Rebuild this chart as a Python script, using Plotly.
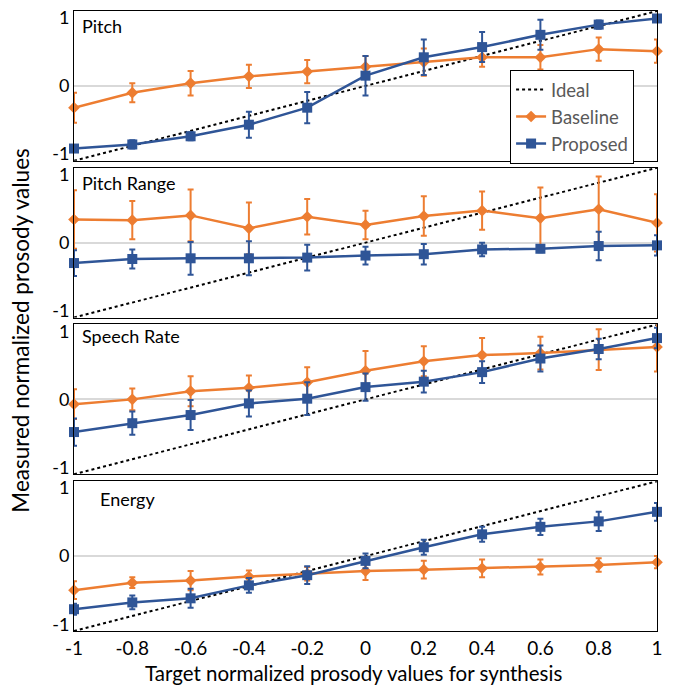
import plotly.graph_objects as go
from plotly.subplots import make_subplots

x_vals = [-1, -0.8, -0.6, -0.4, -0.2, 0, 0.2, 0.4, 0.6, 0.8, 1]
x_tick_labels = ["-1", "-0.8", "-0.6", "-0.4", "-0.2", "0", "0.2", "0.4", "0.6", "0.8", "1"]
y_tick_vals = [-1, 0, 1]
y_tick_labels = ["-1", "0", "1"]
panel_titles = ["Pitch", "Pitch Range", "Speech Rate", "Energy"]

ideal_x = [-1, 1]
ideal_y = [-1.1, 1.1]

# Pitch
pitch_base = [-0.32, -0.10, 0.04, 0.14, 0.21, 0.28, 0.35, 0.42, 0.42, 0.54, 0.51]
pitch_base_err = [0.22, 0.14, 0.18, 0.17, 0.17, 0.16, 0.20, 0.14, 0.18, 0.17, 0.17]
pitch_prop = [-0.92, -0.86, -0.74, -0.57, -0.32, 0.15, 0.42, 0.57, 0.75, 0.90, 0.99]
pitch_prop_err = [0.04, 0.06, 0.06, 0.19, 0.23, 0.29, 0.26, 0.22, 0.22, 0.06, 0.05]

# Pitch Range
range_base = [0.34, 0.33, 0.40, 0.21, 0.38, 0.26, 0.39, 0.47, 0.36, 0.49, 0.29]
range_base_err = [0.43, 0.28, 0.38, 0.38, 0.26, 0.21, 0.29, 0.28, 0.45, 0.48, 0.42]
range_prop = [-0.30, -0.24, -0.23, -0.23, -0.22, -0.19, -0.17, -0.10, -0.09, -0.05, -0.04]
range_prop_err = [0.19, 0.14, 0.24, 0.25, 0.19, 0.13, 0.15, 0.10, 0.05, 0.21, 0.15]

# Speech Rate
rate_base = [-0.07, 0.00, 0.12, 0.17, 0.25, 0.42, 0.56, 0.65, 0.68, 0.73, 0.77]
rate_base_err = [0.22, 0.16, 0.22, 0.18, 0.22, 0.29, 0.22, 0.25, 0.24, 0.30, 0.36]
rate_prop = [-0.48, -0.35, -0.23, -0.06, 0.01, 0.18, 0.26, 0.40, 0.60, 0.74, 0.90]
rate_prop_err = [0.20, 0.17, 0.22, 0.19, 0.24, 0.20, 0.16, 0.16, 0.19, 0.15, 0.15]

# Energy
energy_base = [-0.50, -0.39, -0.36, -0.30, -0.26, -0.22, -0.20, -0.18, -0.16, -0.13, -0.09]
energy_base_err = [0.13, 0.08, 0.14, 0.09, 0.10, 0.13, 0.13, 0.13, 0.11, 0.10, 0.09]
energy_prop = [-0.78, -0.68, -0.62, -0.43, -0.28, -0.07, 0.13, 0.32, 0.43, 0.51, 0.65]
energy_prop_err = [0.08, 0.10, 0.14, 0.11, 0.13, 0.11, 0.11, 0.11, 0.12, 0.14, 0.13]

panels = [
    (pitch_base, pitch_base_err, pitch_prop, pitch_prop_err),
    (range_base, range_base_err, range_prop, range_prop_err),
    (rate_base, rate_base_err, rate_prop, rate_prop_err),
    (energy_base, energy_base_err, energy_prop, energy_prop_err),
]

ORANGE = "#ED7D31"
BLUE = "#2F5597"
FONT = "Lato"

fig = make_subplots(rows=4, cols=1, shared_xaxes=True, vertical_spacing=0.0112)

for i, (b, be, p, pe) in enumerate(panels):
    row = i + 1
    show = (i == 0)
    fig.add_trace(go.Scatter(
        x=ideal_x, y=ideal_y, mode="lines", name="Ideal",
        line=dict(color="black", width=2, dash="dot"),
        showlegend=show, legendrank=1, cliponaxis=False), row=row, col=1)
    fig.add_trace(go.Scatter(
        x=x_vals, y=b, mode="lines+markers", name="Baseline",
        line=dict(color=ORANGE, width=2.5),
        marker=dict(symbol="diamond", size=9, color=ORANGE),
        error_y=dict(type="data", array=be, visible=True, color=ORANGE, thickness=2, width=3),
        showlegend=show, legendrank=2, cliponaxis=False), row=row, col=1)
    fig.add_trace(go.Scatter(
        x=x_vals, y=p, mode="lines+markers", name="Proposed",
        line=dict(color=BLUE, width=2.5),
        marker=dict(symbol="square", size=10, color=BLUE),
        error_y=dict(type="data", array=pe, visible=True, color=BLUE, thickness=2, width=3),
        showlegend=show, legendrank=3, cliponaxis=False), row=row, col=1)

for i in range(4):
    row = i + 1
    fig.update_yaxes(range=[-1.1, 1.1], tickvals=y_tick_vals, ticktext=y_tick_labels,
                     showgrid=False, zeroline=True, zerolinecolor="#d9d9d9", zerolinewidth=1.5,
                     showline=True, linecolor="black", linewidth=1, mirror=True,
                     ticks="", tickfont=dict(size=18, color="black", family=FONT),
                     row=row, col=1)
    fig.update_xaxes(range=[-1, 1], tickvals=x_vals, ticktext=x_tick_labels,
                     showgrid=False, zeroline=False,
                     showline=True, linecolor="black", linewidth=1, mirror=True,
                     ticks="", tickfont=dict(size=19, color="black", family=FONT),
                     showticklabels=(row == 4),
                     row=row, col=1)

title_x = [0.01, 0.01, 0.01, 0.042]
title_y = [0.90, 0.90, 0.92, 0.88]
for i, t in enumerate(panel_titles):
    ax = "" if i == 0 else str(i + 1)
    fig.add_annotation(text=t, xref=f"x{ax} domain", yref=f"y{ax} domain",
                       x=title_x[i], y=title_y[i], xanchor="left", yanchor="middle",
                       showarrow=False, font=dict(size=18, color="black", family=FONT))

fig.add_annotation(text="Measured normalized prosody values", xref="paper", yref="paper",
                   x=-0.092, y=0.485, xanchor="center", yanchor="middle", textangle=-90,
                   showarrow=False, font=dict(size=22.5, color="black", family=FONT))
fig.add_annotation(text="Target normalized prosody values for synthesis", xref="paper", yref="paper",
                   x=0.48, y=-0.067, xanchor="center", yanchor="middle",
                   showarrow=False, font=dict(size=20.5, color="black", family=FONT))

fig.update_layout(
    width=679, height=691,
    margin=dict(l=74, r=22, t=6, b=60),
    plot_bgcolor="white", paper_bgcolor="white",
    font=dict(family=FONT, color="black"),
    legend=dict(x=0.748, y=0.905, xanchor="left", yanchor="top",
                bgcolor="white", bordercolor="black", borderwidth=1,
                font=dict(size=18.5, color="#595959", family=FONT),
                tracegroupgap=0, itemwidth=30, entrywidth=112, entrywidthmode="pixels"),
    showlegend=True,
)

fig.write_html("out.html", config={"displayModeBar": False},
               post_script="document.body.style.margin='0px';")
